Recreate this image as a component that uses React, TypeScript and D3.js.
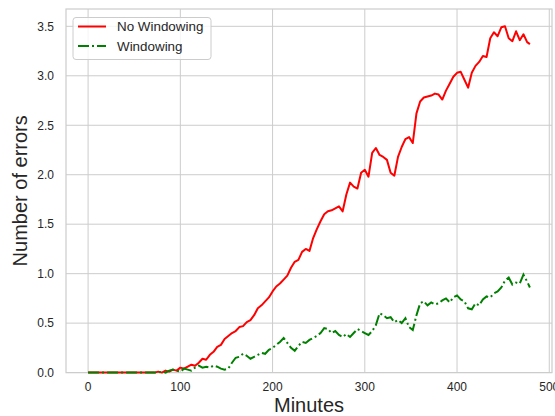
import React from 'react';
import * as d3 from 'd3';

// sampled every 4 minutes, last sample at minute 479
const STEP = 4;
const noWindowing = [
  0, 0, 0, 0, 0, 0, 0, 0, 0, 0, 0, 0, 0, 0, 0, 0, 0, 0, 0,
  0.01, 0.0, 0.02, 0.01, 0.03, 0.02, 0.05, 0.04, 0.06, 0.08, 0.07,
  0.10, 0.14, 0.13, 0.18, 0.21, 0.26, 0.28, 0.34, 0.37, 0.40,
  0.42, 0.46, 0.47, 0.51, 0.53, 0.58, 0.65, 0.68, 0.72, 0.76,
  0.82, 0.87, 0.90, 0.94, 0.98, 1.06, 1.12, 1.14, 1.22, 1.25,
  1.23, 1.36, 1.45, 1.53, 1.60, 1.63, 1.64, 1.66, 1.68, 1.63,
  1.80, 1.92, 1.88, 1.86, 2.02, 2.05, 1.98, 2.22, 2.27, 2.20,
  2.18, 2.15, 2.02, 1.99, 2.18, 2.28, 2.36, 2.38, 2.32, 2.62,
  2.74, 2.78, 2.79, 2.80, 2.82, 2.81, 2.76, 2.85, 2.92, 2.99,
  3.03, 3.04, 2.96, 2.88, 3.03, 3.10, 3.14, 3.20, 3.19, 3.38,
  3.44, 3.40, 3.49, 3.50, 3.38, 3.35, 3.45, 3.36, 3.42, 3.34,
  3.32,
];
const windowing = [
  0, 0, 0, 0, 0, 0, 0, 0, 0, 0, 0, 0, 0, 0, 0, 0, 0, 0, 0, 0,
  0.01, 0.0, 0.02, 0.03, 0.02, 0.01, 0.04, 0.03, 0.02, 0.05,
  0.07, 0.05, 0.06, 0.05, 0.07, 0.06, 0.04, 0.03, 0.04, 0.10,
  0.15, 0.16, 0.19, 0.17, 0.14, 0.16, 0.18, 0.20, 0.19, 0.23,
  0.25, 0.28, 0.31, 0.35, 0.30, 0.25, 0.22, 0.27, 0.31, 0.30,
  0.33, 0.35, 0.37, 0.40, 0.45, 0.44, 0.40, 0.42, 0.38, 0.36,
  0.39, 0.36, 0.40, 0.44, 0.42, 0.40, 0.38, 0.42, 0.48, 0.60,
  0.58, 0.55, 0.56, 0.51, 0.53, 0.50, 0.55, 0.46, 0.43, 0.58,
  0.70, 0.72, 0.68, 0.71, 0.69, 0.70, 0.73, 0.75, 0.71, 0.76,
  0.78, 0.74, 0.72, 0.65, 0.64, 0.70, 0.68, 0.74, 0.77, 0.76,
  0.80, 0.82, 0.86, 0.93, 0.96, 0.89, 0.91, 0.90, 0.99, 0.92,
  0.86,
];
const xTicks = [0, 100, 200, 300, 400, 500];
const yTicks = [0, 0.5, 1, 1.5, 2, 2.5, 3, 3.5];
const seriesNames = ['No Windowing', 'Windowing'];

const width = 555;
const height = 416;
const left = 66;
const right = 552;
const top = 9;
const bottom = 372.6;
const grid = '#cccccc';
const ink = '#262626';
const dashDot = '11,3,2,3';

const minuteAt = (i: number, n: number) => (i === n - 1 ? 479 : i * STEP);

const x = d3.scaleLinear().domain([-23.95, 502.95]).range([left, right]);
const y = d3.scaleLinear().domain([0, 3.675]).range([bottom, top]);

const line = d3.line<number>()
  .x((d, i, arr) => x(minuteAt(i, (arr as number[]).length)))
  .y(d => y(d));

const App = () => {
  return (
    <svg width={width} height={height} style={{ position: 'absolute', left: 0, top: 0, background: '#fff' }}
      fontFamily="'Liberation Sans', Arial, sans-serif">
      {xTicks.map(t => (
        <line key={'gx' + t} x1={x(t)} x2={x(t)} y1={top} y2={bottom} stroke={grid} strokeWidth={1} />
      ))}
      {yTicks.map(t => (
        <line key={'gy' + t} x1={left} x2={right} y1={y(t)} y2={y(t)} stroke={grid} strokeWidth={1} />
      ))}
      <rect x={left} y={top} width={right - left} height={bottom - top} fill="none" stroke={grid} strokeWidth={1.2} />

      {xTicks.map(t => (
        <text key={'tx' + t} x={x(t)} y={391} textAnchor="middle" fontSize={12} fill={ink}>{t}</text>
      ))}
      {yTicks.map(t => (
        <text key={'ty' + t} x={54} y={y(t) + 4.3} textAnchor="end" fontSize={12} fill={ink}>{t.toFixed(1)}</text>
      ))}

      <text x={(left + right) / 2} y={412} textAnchor="middle" fontSize={20} fill={ink}>Minutes</text>
      <text transform={`translate(27,${(top + bottom) / 2}) rotate(-90)`} textAnchor="middle" fontSize={20} fill={ink}>
        Number of errors
      </text>

      <path d={line(noWindowing) || ''} fill="none" stroke="red" strokeWidth={2} strokeLinejoin="round" />
      <path d={line(windowing) || ''} fill="none" stroke="green" strokeWidth={2} strokeDasharray={dashDot} />

      <g>
        <rect x={73} y={17.5} width={138} height={42} rx={3} fill="#fff" fillOpacity={0.8} stroke={grid} strokeWidth={1} />
        <line x1={78} x2={106} y1={26.5} y2={26.5} stroke="red" strokeWidth={2} />
        <text x={117} y={31.3} fontSize={13.4} fill={ink}>{seriesNames[0]}</text>
        <line x1={78} x2={106} y1={46} y2={46} stroke="green" strokeWidth={2} strokeDasharray={dashDot} />
        <text x={117} y={50.8} fontSize={13.4} fill={ink}>{seriesNames[1]}</text>
      </g>
    </svg>
  );
};

export default App;
